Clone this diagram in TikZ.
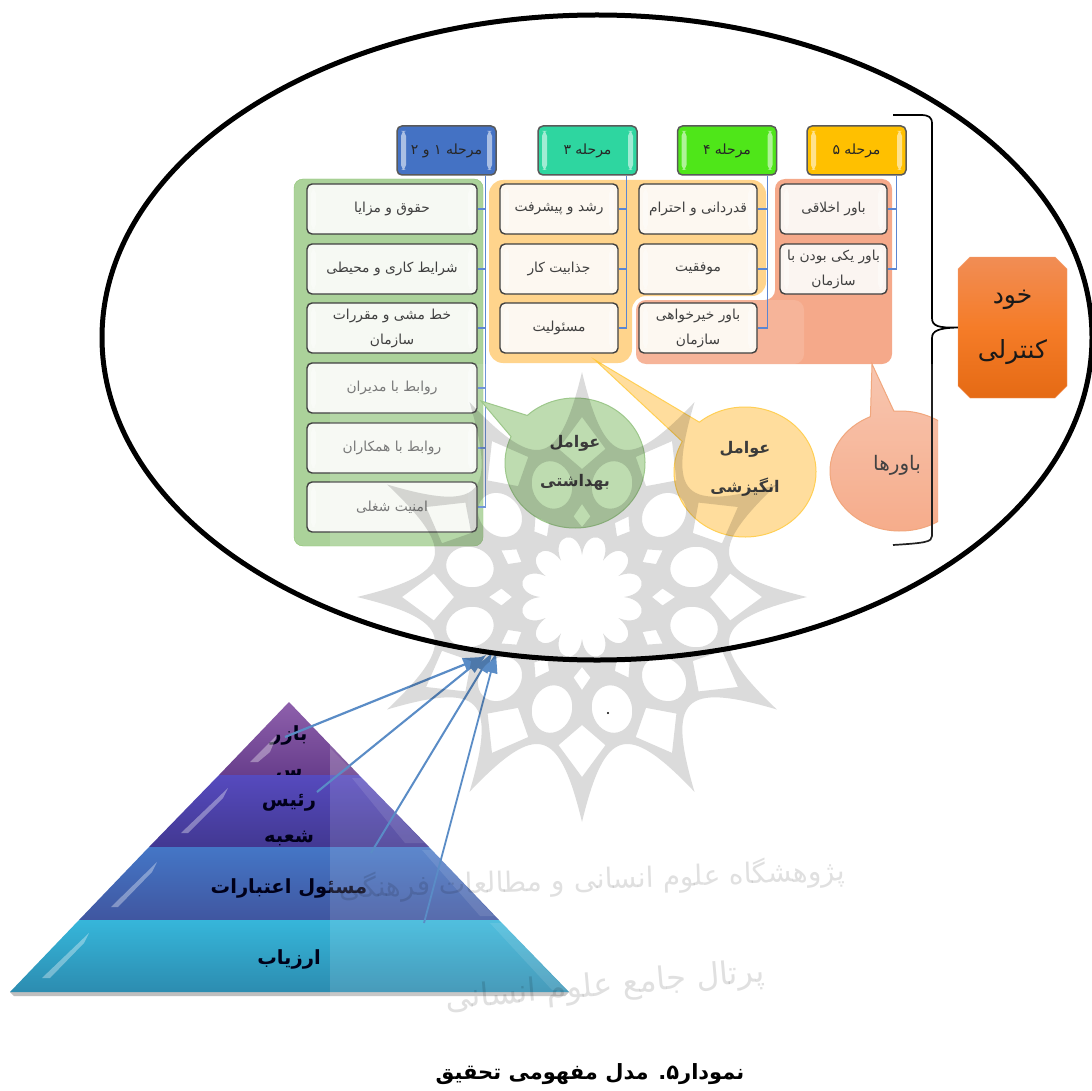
\documentclass[tikz,border=0pt]{standalone}
\usepackage{fontspec}
\usetikzlibrary{arrows.meta,shapes.misc,calc}
\TeXXeTstate=1
\newfontfamily\arabicfont[Script=Arabic]{DejaVu Sans}
\newcommand\fatxt[1]{\arabicfont\beginR #1\endR}
\definecolor{linkblue}{HTML}{5B86D2}
\definecolor{arrowblue}{HTML}{5A8CC6}
\tikzset{
  glossbars/.style={path picture={
    \fill[white,opacity=#1] ([xshift=4pt,yshift=-5pt]path picture bounding box.north west) rectangle ([xshift=9pt,yshift=5pt]path picture bounding box.south west);
    \fill[white,opacity=#1] ([xshift=-9pt,yshift=-5pt]path picture bounding box.north east) rectangle ([xshift=-4pt,yshift=5pt]path picture bounding box.south east);
  }},
  stagebox/.style={draw=black!65,line width=1.5pt,rounded corners=5pt,minimum width=99pt,minimum height=49pt,inner sep=0pt,text=black!85,font=\fontsize{14}{16}\selectfont,glossbars=.55},
  itembox/.style={draw=black!75,line width=1.4pt,rounded corners=5pt,minimum height=50pt,inner sep=0pt,align=center,text=black!75,font=\fontsize{13.8}{25}\selectfont,glossbars=.4},
  conn/.style={draw=linkblue,line width=1.2pt},
  calltext/.style={inner sep=0pt,align=center,text=black!88,font=\bfseries\fontsize{16}{39}\selectfont},
  pyrtext/.style={inner sep=0pt,align=center,text=black!90!blue,font=\bfseries\fontsize{19.5}{36}\selectfont},
  sliver/.style={fill=white,fill opacity=.35},
  edgeglow/.style={fill=white,fill opacity=.10},
  inflow/.style={draw=arrowblue,-{Triangle[length=20pt,width=13pt]}},
  wmark/.style={inner sep=0pt,text=black,text opacity=.12,font=\fontsize{#1}{#1}\selectfont},
}
\begin{document}
\begin{tikzpicture}[x=1pt,y=-1pt]
\useasboundingbox (0,0) rectangle (1091,1091);
\fill[white] (0,0) rectangle (1091,1091);

% panels
\draw[rounded corners=9pt,draw={rgb,255:red,140;green,195;blue,112},fill={rgb,255:red,171;green,210;blue,154}] (294,179) rectangle (483,546);
\fill[rounded corners=14pt,fill={rgb,255:red,255;green,212;blue,140}] (489,180) -- (766,180) -- (766,296) -- (632,296) -- (632,363) -- (489,363) -- cycle;
\fill[rounded corners=10pt,fill={rgb,255:red,245;green,169;blue,138}] (775,179) -- (892,179) -- (892,364) -- (636,364) -- (636,300) -- (775,300) -- cycle;
\fill[fill={rgb,255:red,245;green,169;blue,138}] (765,300) rectangle (785,312);
\fill[rounded corners=10pt,white,opacity=.13] (636,300) rectangle (804,364);

% stage headers
\node[stagebox,fill={rgb,255:red,68;green,114;blue,196}] (h1) at (446.5,150.5) {\fatxt{مرحله ۱ و ۲}};
\node[stagebox,fill={rgb,255:red,46;green,214;blue,160}] (h2) at (587.5,150.5) {\fatxt{مرحله ۳}};
\node[stagebox,fill={rgb,255:red,79;green,230;blue,25}] (h3) at (727,150.5) {\fatxt{مرحله ۴}};
\node[stagebox,fill={rgb,255:red,255;green,192;blue,0}] (h4) at (856.5,150.5) {\fatxt{مرحله ۵}};

% items
\tikzset{itemA/.style={itembox,minimum width=170pt,fill={rgb,255:red,246;green,249;blue,243}},
         itemB/.style={itembox,minimum width=118pt,fill={rgb,255:red,253;green,248;blue,241}},
         itemC/.style={itembox,minimum width=107pt,fill={rgb,255:red,251;green,245;blue,241}}}
\node[itemA] (a1) at (392,209) {\fatxt{حقوق و مزایا}};
\node[itemA] (a2) at (392,269) {\fatxt{شرایط کاری و محیطی}};
\node[itemA] (a3) at (392,328) {\fatxt{خط مشی و مقررات}\\\fatxt{سازمان}};
\node[itemA,text=black!60] (a4) at (392,388) {\fatxt{روابط با مدیران}};
\node[itemA,text=black!60] (a5) at (392,448) {\fatxt{روابط با همکاران}};
\node[itemA,text=black!60] (a6) at (392,507) {\fatxt{امنیت شغلی}};
\node[itemB] (b1) at (559,209) {\fatxt{رشد و پیشرفت}};
\node[itemB] (b2) at (559,269) {\fatxt{جذابیت کار}};
\node[itemB] (b3) at (559,328) {\fatxt{مسئولیت}};
\node[itemB] (c1) at (698,209) {\fatxt{قدردانی و احترام}};
\node[itemB] (c2) at (698,269) {\fatxt{موفقیت}};
\node[itemB] (c3) at (698,328) {\fatxt{باور خیرخواهی}\\\fatxt{سازمان}};
\node[itemC] (d1) at (833.5,209) {\fatxt{باور اخلاقی}};
\node[itemC] (d2) at (833.5,269) {\fatxt{باور یکی بودن با}\\\fatxt{سازمان}};

% connectors
\coordinate (s1) at ([xshift=-11pt]h1.south east);
\coordinate (s2) at ([xshift=-11pt]h2.south east);
\coordinate (s3) at ([xshift=-10pt]h3.south east);
\coordinate (s4) at ([xshift=-10pt]h4.south east);
\foreach \t in {a1,a2,a3,a4,a5,a6} \draw[conn] (s1) |- (\t.east);
\foreach \t in {b1,b2,b3} \draw[conn] (s2) |- (\t.east);
\foreach \t in {c1,c2,c3} \draw[conn] (s3) |- (\t.east);
\foreach \t in {d1,d2} \draw[conn] (s4) |- (\t.east);

% callouts
\draw[draw={rgb,255:red,143;green,192;blue,122},line width=1pt,fill={rgb,255:red,181;green,215;blue,165}]
  ($(575,463)+(227:70 and 65)$) arc[start angle=227,delta angle=337,x radius=70,y radius=65] -- (481,401) -- cycle;
\draw[draw={rgb,255:red,255;green,201;blue,60},line width=1pt,fill={rgb,255:red,255;green,217;blue,143}]
  ($(745,472)+(230:71 and 65)$) arc[start angle=230,delta angle=338,x radius=71,y radius=65] -- (595,360) -- cycle;
\begin{scope}
\clip (800,350) rectangle (938,545);
\shade[draw={rgb,255:red,240;green,154;blue,106},line width=1pt,top color={rgb,255:red,246;green,190;blue,165},bottom color={rgb,255:red,245;green,160;blue,122}]
  ($(900,471)+(265:70 and 60)$) arc[start angle=265,delta angle=340,x radius=70,y radius=60] -- (872,364) -- cycle;
\end{scope}
\node[calltext] (t1) at (575,463) {\fatxt{عوامل}\\\fatxt{بهداشتی}};
\node[calltext] (t2) at (745,469) {\fatxt{عوامل}\\\fatxt{انگیزشی}};
\node[inner sep=0pt,text=black!85,font=\fontsize{20}{22}\selectfont] (t3) at (897,465) {\fatxt{باورها}};

% self control box and brace
\node[chamfered rectangle,chamfered rectangle xsep=6pt,chamfered rectangle ysep=6pt,draw={rgb,255:red,245;green,160;blue,110},
      top color={rgb,255:red,241;green,141;blue,85},bottom color={rgb,255:red,229;green,106;blue,20},middle color={rgb,255:red,245;green,124;blue,40},
      minimum width=109pt,minimum height=141pt,inner sep=0pt,align=center,text=black!90,font=\fontsize{25}{55}\selectfont] (k) at (1012.5,327.5) {\fatxt{خود}\\\fatxt{کنترلی}};
\coordinate (bt) at (893,115);
\coordinate (bb) at (893,545);
\draw[black,line width=1.7pt] (bt) -- (920,115) .. controls (929,115) and (932,117) .. (932,124)
  -- (932,318) .. controls (932,326) and (938,328) .. (k.west)
  .. controls (938,328) and (932,331) .. (932,338) -- (932,536)
  .. controls (932,542) and (925,543) .. (bb);

% pyramid
\fill[black!25] (10,992) -- (569,992) -- (565,996) -- (14,996) -- cycle;
\shade[top color={rgb,255:red,142;green,96;blue,172},bottom color={rgb,255:red,104;green,62;blue,140}] (289,702) -- (359,775) -- (219,775) -- cycle;
\node[pyrtext] (p1) at (289,753) {\fatxt{بازر}\\\fatxt{س}};
\shade[top color={rgb,255:red,86;green,74;blue,190},bottom color={rgb,255:red,66;green,56;blue,146}] (219,775) -- (359,775) -- (429,847) -- (149,847) -- cycle;
\node[pyrtext] (p2) at (289,820) {\fatxt{رئیس}\\\fatxt{شعبه}};
\shade[top color={rgb,255:red,68;green,118;blue,198},bottom color={rgb,255:red,64;green,86;blue,160}] (149,847) -- (429,847) -- (499,920) -- (79,920) -- cycle;
\node[pyrtext] (p3) at (289,888) {\fatxt{مسئول اعتبارات}};
\shade[top color={rgb,255:red,54;green,182;blue,218},bottom color={rgb,255:red,44;green,140;blue,176}] (79,920) -- (499,920) -- (569,992) -- (10,992) -- cycle;
\node[pyrtext] (p4) at (289,959) {\fatxt{ارزیاب}};
% gloss on the pyramid
\fill[sliver] (250,762) -- (277,735) -- (270,752) -- (258,762) -- cycle;
\fill[sliver] (181,833) -- (228,788) -- (223,798) -- (188,833) -- cycle;
\fill[sliver] (111,907) -- (157,862) -- (152,872) -- (118,907) -- cycle;
\fill[sliver] (42,978) -- (89,933) -- (84,943) -- (50,978) -- cycle;
\fill[edgeglow] (330,748) -- (350,768) -- (340,775) -- (330,775) -- cycle;
\fill[edgeglow] (352,778) -- (362,778) -- (424,843) -- (405,843) -- cycle;
\fill[edgeglow] (422,850) -- (432,850) -- (494,916) -- (480,916) -- cycle;
\fill[edgeglow] (490,923) -- (502,923) -- (566,990) -- (552,990) -- cycle;

% pale band of the page scan
\fill[white,opacity=.13] (330,364) rectangle (938,1040);

% arrows
\coordinate (f1) at (285,737);
\coordinate (f2) at (317,792);
\coordinate (f3) at (371,853);
\coordinate (f4) at (424,923);
\coordinate (g1) at (483,657);
\coordinate (g2) at (486,655);
\coordinate (g3) at (492,653);
\coordinate (g4) at (496,653);
\draw[inflow,line width=2.2pt] (f1) -- (g1);
\draw[inflow,line width=2.1pt] (f2) -- (g2);
\draw[inflow,line width=2pt] (f3) -- (g3);
\draw[inflow,line width=1.8pt] (f4) -- (g4);

% watermark rosette
\begin{scope}[shift={(582,597)}]
\fill[black,fill opacity=.14,even odd rule]
  (0:225) \foreach \a in {0,30,...,330} { .. controls (\a+10:132) and (\a+20:132) .. (\a+30:225) } -- cycle
  \foreach \a in {0,30,...,330} { (\a:128) -- (\a+9:150) -- (\a:180) -- (\a-9:150) -- cycle }
  \foreach \a in {0,30,...,330} { (\a:70) -- (\a+6:81) -- (\a:93) -- (\a-6:81) -- cycle }
  \foreach \a in {15,45,...,345} { (\a:116) circle[x radius=24,y radius=20,rotate=-\a] }
  (0:42) \foreach \a in {0,30,...,330} { .. controls (\a+3:70) and (\a+27:70) .. (\a+30:42) } -- cycle;
\end{scope}

% outer ellipse
\draw[black,line width=5pt] (597,337.5) ellipse[x radius=495,y radius=322.5];
\fill[black] (608,713) circle (1.2);

% watermark script
\node[wmark=28,rotate=2] (w1) at (592,880) {\fatxt{پژوهشگاه علوم انسانی و مطالعات فرهنگی}};
\node[wmark=32,rotate=5] (w2) at (605,987) {\fatxt{پرتال جامع علوم انسانی}};

% caption
\node[inner sep=0pt,text=black,font=\bfseries\fontsize{21}{24}\selectfont] (cap) at (590,1074) {\fatxt{نمودار۵. مدل مفهومی تحقیق}};
\end{tikzpicture}
\end{document}
